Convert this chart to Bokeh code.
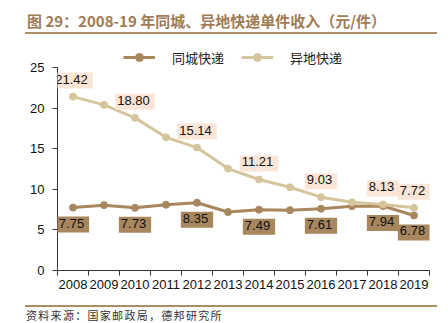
from bokeh.plotting import figure
from bokeh.models import (ColumnDataSource, Range1d, FixedTicker, Label, Legend,
                          LegendItem, Div)
from bokeh.layouts import column
from bokeh.embed import file_html
from bokeh.resources import INLINE

# ---- data ----
years = ["2008", "2009", "2010", "2011", "2012", "2013", "2014", "2015",
         "2016", "2017", "2018", "2019"]
same_city = [7.75, 8.05, 7.73, 8.10, 8.35, 7.20, 7.49, 7.43, 7.61, 7.92, 7.94, 6.78]
inter_city = [21.42, 20.40, 18.80, 16.40, 15.14, 12.55, 11.21, 10.25, 9.03, 8.40, 8.13, 7.72]
label_years = ["2008", "2010", "2012", "2014", "2016", "2018", "2019"]
y_ticks = [0, 5, 10, 15, 20, 25]
series_names = ["同城快递", "异地快递"]
title_text = "图 29：2008-19 年同城、异地快递单件收入（元/件）"
source_text = "资料来源：国家邮政局，德邦研究所"

BROWN = "#a8865e"
TAN = "#d5c59c"
PEACH = "#fbe5d6"
RULE = "#ad8c66"
FONT = "Liberation Sans"

xs = [i + 0.5 for i in range(len(years))]
src = ColumnDataSource(dict(x=xs, same=same_city, inter=inter_city, yr=years))

p = figure(width=448, height=264, output_backend="svg", toolbar_location=None,
           x_range=Range1d(0, len(years)), y_range=Range1d(0, 28.82),
           min_border_left=57, min_border_right=19, min_border_top=0,
           min_border_bottom=30)
p.outline_line_color = None
p.xgrid.visible = False
p.ygrid.visible = False
p.background_fill_color = "white"

# axes
xa = p.xaxis[0]
xa.ticker = FixedTicker(ticks=xs, minor_ticks=list(range(len(years) + 1)))
xa.major_label_overrides = {x: y for x, y in zip(xs, years)}
xa.major_tick_out = 0
xa.major_tick_in = 0
xa.minor_tick_out = 5
xa.minor_tick_in = 0
xa.minor_tick_line_color = "#333333"
xa.axis_line_color = "#333333"
xa.major_label_text_font = FONT
xa.major_label_text_font_size = "13px"
xa.major_label_text_color = "#111111"
xa.major_label_standoff = 4

ya = p.yaxis[0]
ya.ticker = FixedTicker(ticks=y_ticks)
ya.bounds = (0, 25)
ya.major_tick_out = 5
ya.major_tick_in = 0
ya.minor_tick_line_color = None
ya.axis_line_color = "#333333"
ya.major_tick_line_color = "#333333"
ya.major_label_text_font = FONT
ya.major_label_text_font_size = "13px"
ya.major_label_text_color = "#111111"
ya.major_label_standoff = 8

# lines
l1 = p.line("x", "same", source=src, line_color=BROWN, line_width=3)
c1 = p.scatter("x", "same", source=src, size=7, fill_color=BROWN, line_color=BROWN)
l2 = p.line("x", "inter", source=src, line_color=TAN, line_width=3)
c2 = p.scatter("x", "inter", source=src, size=7, fill_color=TAN, line_color=TAN)

# data labels
for yr in label_years:
    i = years.index(yr)
    p.add_layout(Label(x=xs[i], y=inter_city[i], text="%.2f" % inter_city[i],
                       text_align="center", text_baseline="middle", y_offset=16,
                       text_font=FONT, text_font_size="13px", text_color="#111111",
                       background_fill_color=PEACH, padding=(2, 5, 2, 5)))
for yr in label_years:
    i = years.index(yr)
    p.add_layout(Label(x=xs[i], y=same_city[i], text="%.2f" % same_city[i],
                       text_align="center", text_baseline="middle", y_offset=-17,
                       text_font=FONT, text_font_size="13px", text_color="#111111",
                       background_fill_color=BROWN, padding=(2, 5, 2, 5)))

legend = Legend(items=[LegendItem(label=series_names[0], renderers=[l1, c1]),
                       LegendItem(label=series_names[1], renderers=[l2, c2])],
                orientation="horizontal", location=(66, 203),
                glyph_width=32, glyph_height=20, label_standoff=17, spacing=17,
                padding=0, margin=0, border_line_color=None,
                background_fill_alpha=0, label_text_font="Noto Sans CJK SC",
                label_text_font_size="13px", label_text_color="#222222")
p.add_layout(legend)

title_div = Div(
    text=('<div style="position:relative;width:448px;height:36px;">'
          '<div style="position:absolute;left:27px;top:12px;white-space:nowrap;'
          'font-family:\'Noto Sans CJK SC\';font-weight:bold;font-size:15px;'
          'line-height:18px;color:#a07b55;">' + title_text + '</div>'
          '<div style="position:absolute;left:25px;top:32px;width:412px;height:2px;'
          'background:' + RULE + ';"></div></div>'),
    width=448, height=36, margin=(0, 0, 0, 0))

source_div = Div(
    text=('<div style="position:relative;width:448px;height:23px;">'
          '<div style="position:absolute;left:25px;top:5px;width:412px;height:2px;'
          'background:' + RULE + ';"></div>'
          '<div style="position:absolute;left:26px;top:9px;white-space:nowrap;'
          'font-family:\'Noto Sans CJK SC\';font-size:11px;line-height:13px;'
          'letter-spacing:1.3px;color:#333333;">' + source_text + '</div></div>'),
    width=448, height=23, margin=(0, 0, 0, 0))

layout = column(title_div, p, source_div, spacing=0)
open("out.html", "w").write(file_html(layout, INLINE))
